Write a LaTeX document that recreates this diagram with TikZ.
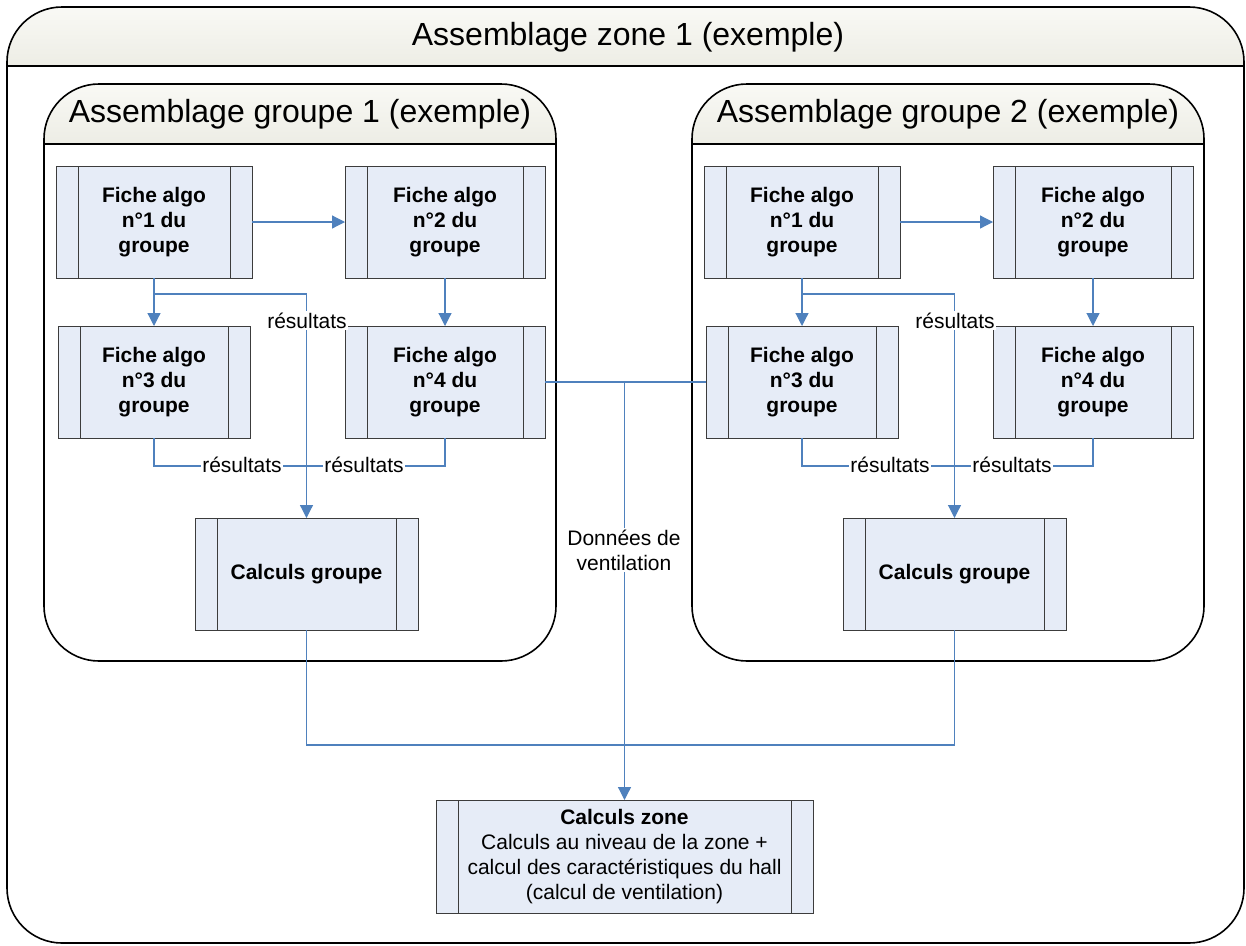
\documentclass[tikz,border=0pt]{standalone}
\usepackage{fontspec}
\setmainfont{Liberation Sans}
\usetikzlibrary{arrows.meta,calc}
\definecolor{boxfill}{HTML}{E6ECF7}
\definecolor{boxline}{HTML}{3C3C3C}
\definecolor{connc}{HTML}{4F81BD}
\definecolor{bandtop}{HTML}{F9F9F5}
\definecolor{bandbot}{HTML}{EDEDE5}
\tikzset{
  proc/.style={draw=boxline, fill=boxfill, line width=1pt, inner sep=0pt, outer sep=0pt,
    align=center, font=\fontsize{21}{25}\selectfont},
  boldproc/.style={font=\fontsize{21}{25}\selectfont\bfseries},
  procline/.style={draw=boxline, line width=1pt},
  link/.style={draw=connc, line width=1.2pt},
  arrowlink/.style={link, -{Triangle[length=13pt,width=13pt]}},
  lbl/.style={fill=white, inner sep=1.5pt, align=center, font=\fontsize{21}{25}\selectfont},
  frame/.style={draw=black, line width=1.6pt},
  titlebox/.style={font=\fontsize{32}{38}\selectfont, inner sep=0pt},
}
\newcommand{\procbox}[7][]{%
  \node[proc, #1, minimum width={(#5)-(#3)}, minimum height={(#6)-(#4)}] (#2)
    at ({((#3)+(#5))/2},{((#4)+(#6))/2}) {#7};
  \draw[procline] ([xshift=22pt]#2.north west) -- ([xshift=22pt]#2.south west);
  \draw[procline] ([xshift=-22pt]#2.north east) -- ([xshift=-22pt]#2.south east);
}
\newcommand{\grp}[3]{%
  \begin{scope}
    \clip[rounded corners=55pt] ({44+#2},84) rectangle ({556+#2},661);
    \shade[top color=bandtop, bottom color=bandbot] ({44+#2},84) rectangle ({556+#2},144);
  \end{scope}
  \draw[frame, rounded corners=55pt] ({44+#2},84) rectangle ({556+#2},661);
  \draw[frame] ({44+#2},144) -- ({556+#2},144);
  \node[titlebox] (#1t) at ({300+#2},114) {#3};
  \procbox[boldproc]{#1a}{56+#2}{166}{252+#2}{278}{Fiche algo\\n°1 du\\groupe}
  \procbox[boldproc]{#1b}{345+#2}{166}{545+#2}{278}{Fiche algo\\n°2 du\\groupe}
  \procbox[boldproc]{#1c}{58+#2}{326}{250+#2}{438}{Fiche algo\\n°3 du\\groupe}
  \procbox[boldproc]{#1d}{345+#2}{326}{545+#2}{438}{Fiche algo\\n°4 du\\groupe}
  \procbox[boldproc]{#1e}{195+#2}{518}{418+#2}{630}{Calculs groupe}
  \draw[arrowlink] (#1a.east) -- (#1b.west);
  \draw[arrowlink] (#1a.south) -- (#1c.north);
  \draw[arrowlink] (#1b.south) -- (#1d.north);
  \coordinate (#1r) at ($(#1a.south)+(0,16)$);
  \draw[arrowlink] (#1r) -| (#1e.north);
  \coordinate (#1m) at ($(#1e.north)+(0,-52)$);
  \draw[link] (#1c.south) |- (#1m);
  \draw[link] (#1d.south) |- (#1m);
  \node[lbl, anchor=base] (#1l1) at ({307+#2},328) {résultats};
  \node[lbl, anchor=base] (#1l2) at ({242+#2},472) {résultats};
  \node[lbl, anchor=base] (#1l3) at ({364+#2},472) {résultats};
}
\begin{document}
\begin{tikzpicture}[x=1pt, y=-1pt]
  \useasboundingbox (0,0) rectangle (1246,945);
  \fill[white] (0,0) rectangle (1246,945);
  % outer container
  \begin{scope}
    \clip[rounded corners=55pt] (7,7) rectangle (1244,943);
    \shade[top color=bandtop, bottom color=bandbot] (7,7) rectangle (1244,66);
  \end{scope}
  \draw[frame, rounded corners=55pt] (7,7) rectangle (1244,943);
  \draw[frame] (7,66) -- (1244,66);
  \node[titlebox] (zt) at (628,37) {Assemblage zone 1 (exemple)};
  % groups
  \grp{g1}{0}{Assemblage groupe 1 (exemple)}
  \grp{g2}{648}{Assemblage groupe 2 (exemple)}
  % zone box
  \procbox{zone}{436}{800}{813}{913}{{\bfseries Calculs zone}\\Calculs au niveau de la zone +\\calcul des caractéristiques du hall\\(calcul de ventilation)}
  % ventilation data
  \draw[link] (g1d.east) -- (g2c.west);
  \coordinate (vj) at (zone.north |- g1d.east);
  \draw[arrowlink] (vj) -- (zone.north);
  \node[lbl] (dv) at (624,550) {Données de\\ventilation};
  % group results to zone
  \draw[link] (g1e.south) -- ++(0,115) -| (g2e.south);
\end{tikzpicture}
\end{document}
